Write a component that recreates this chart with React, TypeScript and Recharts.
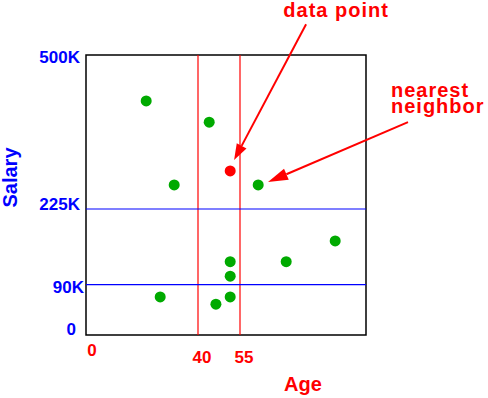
import React from 'react';
import { ScatterChart, Scatter, XAxis, YAxis, ReferenceLine, ReferenceArea } from 'recharts';

// ---- data ----
const neighborAges = [21.5, 44, 31.5, 61.5, 89, 51.5, 71.5, 51.5, 26.5, 51.5, 46.4];
const neighborSalaries = [418000, 380000, 268000, 268000, 168000, 131000, 131000, 105000, 68000, 68000, 55000];
const queryAge = [51.5];
const querySalary = [293000];
const xTicks = [0, 40, 55];
const yTicks = [0, 90000, 225000, 500000];
const yTickLabels = ['0', '90K', '225K', '500K'];
const splitAges = [40, 55];
const splitSalaries = [90000, 225000];
// annotation arrows: [fromAge, fromSalary, toAge, toSalary]
const arrowDataPoint = [78.6, 555000, 52.9, 312500];
const arrowNeighbor = [115, 380000, 65, 273000];
const annotationDataPoint = ['data point'];
const annotationNeighbor = ['nearest', 'neighbor'];

const neighbors = neighborAges.map((a, i) => ({ age: a, salary: neighborSalaries[i] }));
const query = queryAge.map((a, i) => ({ age: a, salary: querySalary[i] }));

const FONT = '"Liberation Sans", Arial, Helvetica, sans-serif';
const RED = '#ff0000';
const BLUE = '#0000ff';
const GREEN = '#00aa00';

// per-tick offsets (style)
const yTickOffsets: Record<number, { dx: number; dy: number }> = {
  0: { dx: -10, dy: 0 },
  90000: { dx: -2, dy: 8 },
  225000: { dx: -6, dy: 1 },
  500000: { dx: -6, dy: 8 },
};
const xTickOffsets: Record<number, { dx: number; dy: number }> = {
  0: { dx: 6, dy: 21 },
  40: { dx: 4, dy: 28 },
  55: { dx: 4, dy: 28 },
};

const YTick = (props: any) => {
  const { y, payload } = props;
  const v = payload.value;
  const o = yTickOffsets[v] || { dx: -6, dy: 5 };
  const idx = yTicks.indexOf(v);
  return (
    <text x={86 + o.dx} y={y + o.dy} textAnchor="end" fill={BLUE} fontFamily={FONT} fontWeight="bold" fontSize={17}>
      {yTickLabels[idx]}
    </text>
  );
};

const XTick = (props: any) => {
  const { x, payload } = props;
  const v = payload.value;
  const o = xTickOffsets[v] || { dx: 0, dy: 20 };
  return (
    <text x={x + o.dx} y={335 + o.dy} textAnchor="middle" fill={RED} fontFamily={FONT} fontWeight="bold" fontSize={17}>
      {String(v)}
    </text>
  );
};

const makeArrow = (headLen: number, headWidth: number, lines: string[], textDx: number, textDy: number, anchor: string) => (props: any) => {
  const { x1, y1, x2, y2 } = props;
  if ([x1, y1, x2, y2].some((v) => typeof v !== 'number' || isNaN(v))) return <g />;
  const dx = x2 - x1;
  const dy = y2 - y1;
  const len = Math.sqrt(dx * dx + dy * dy);
  const ux = dx / len;
  const uy = dy / len;
  const bx = x2 - ux * headLen;
  const by = y2 - uy * headLen;
  const px = -uy * (headWidth / 2);
  const py = ux * (headWidth / 2);
  return (
    <g>
      <line x1={x1} y1={y1} x2={bx} y2={by} stroke={RED} strokeWidth={2} />
      <polygon points={`${x2},${y2} ${bx + px},${by + py} ${bx - px},${by - py}`} fill={RED} />
      {lines.map((t, i) => (
        <text
          key={t}
          x={x1 + textDx}
          y={y1 + textDy + i * 16}
          textAnchor={anchor}
          fill={RED}
          fontFamily={FONT}
          fontWeight="bold"
          fontSize={20}
          letterSpacing={1}
        >
          {t}
        </text>
      ))}
    </g>
  );
};

const AgeLabel = (props: any) => {
  const { viewBox } = props;
  if (!viewBox) return null;
  return (
    <text x={303} y={viewBox.y + 56} textAnchor="middle" fill={RED} fontFamily={FONT} fontWeight="bold" fontSize={20}>
      Age
    </text>
  );
};

const SalaryLabel = (props: any) => {
  const { viewBox } = props;
  if (!viewBox) return null;
  const cy = viewBox.y + 122.5;
  return (
    <text x={17} y={cy} transform={`rotate(-90, 17, ${cy})`} textAnchor="middle" fill={BLUE} fontFamily={FONT} fontWeight="bold" fontSize={20}>
      Salary
    </text>
  );
};

const Dot = (color: string) => (props: any) => {
  const { cx, cy } = props;
  return <circle cx={cx} cy={cy} r={5.5} fill={color} />;
};

export default function App() {
  return (
    <div style={{ position: 'absolute', left: 0, top: 0, width: 488, height: 398, background: '#fff' }}>
      <ScatterChart width={488} height={398} margin={{ top: 55, right: 122, bottom: 0, left: 0 }}>
        <XAxis
          type="number"
          dataKey="age"
          domain={[0, 100]}
          ticks={xTicks}
          height={63}
          axisLine={false}
          tickLine={false}
          tick={<XTick />}
          interval={0}
          allowDataOverflow
          label={<AgeLabel />}
        />
        <YAxis
          type="number"
          dataKey="salary"
          domain={[0, 500000]}
          ticks={yTicks}
          width={86}
          axisLine={false}
          tickLine={false}
          tick={<YTick />}
          interval={0}
          allowDataOverflow
          label={<SalaryLabel />}
        />
        <ReferenceArea x1={0} x2={100} y1={0} y2={500000} fill="none" fillOpacity={0} stroke="#000" strokeWidth={1.5} />
        {splitAges.map((a) => (
          <ReferenceLine key={'x' + a} x={a} stroke={RED} strokeWidth={1.2} />
        ))}
        {splitSalaries.map((s) => (
          <ReferenceLine key={'y' + s} y={s} stroke={BLUE} strokeWidth={1.2} />
        ))}
        <Scatter data={neighbors} isAnimationActive={false} shape={Dot(GREEN)} />
        <Scatter data={query} isAnimationActive={false} shape={Dot(RED)} />
        <ReferenceLine
          ifOverflow="visible"
          segment={[
            { x: arrowDataPoint[0], y: arrowDataPoint[1] },
            { x: arrowDataPoint[2], y: arrowDataPoint[3] },
          ]}
          shape={makeArrow(16, 11, annotationDataPoint, 30, -7, 'middle')}
        />
        <ReferenceLine
          ifOverflow="visible"
          segment={[
            { x: arrowNeighbor[0], y: arrowNeighbor[1] },
            { x: arrowNeighbor[2], y: arrowNeighbor[3] },
          ]}
          shape={makeArrow(20, 12, annotationNeighbor, -17, -25, 'start')}
        />
      </ScatterChart>
    </div>
  );
}
